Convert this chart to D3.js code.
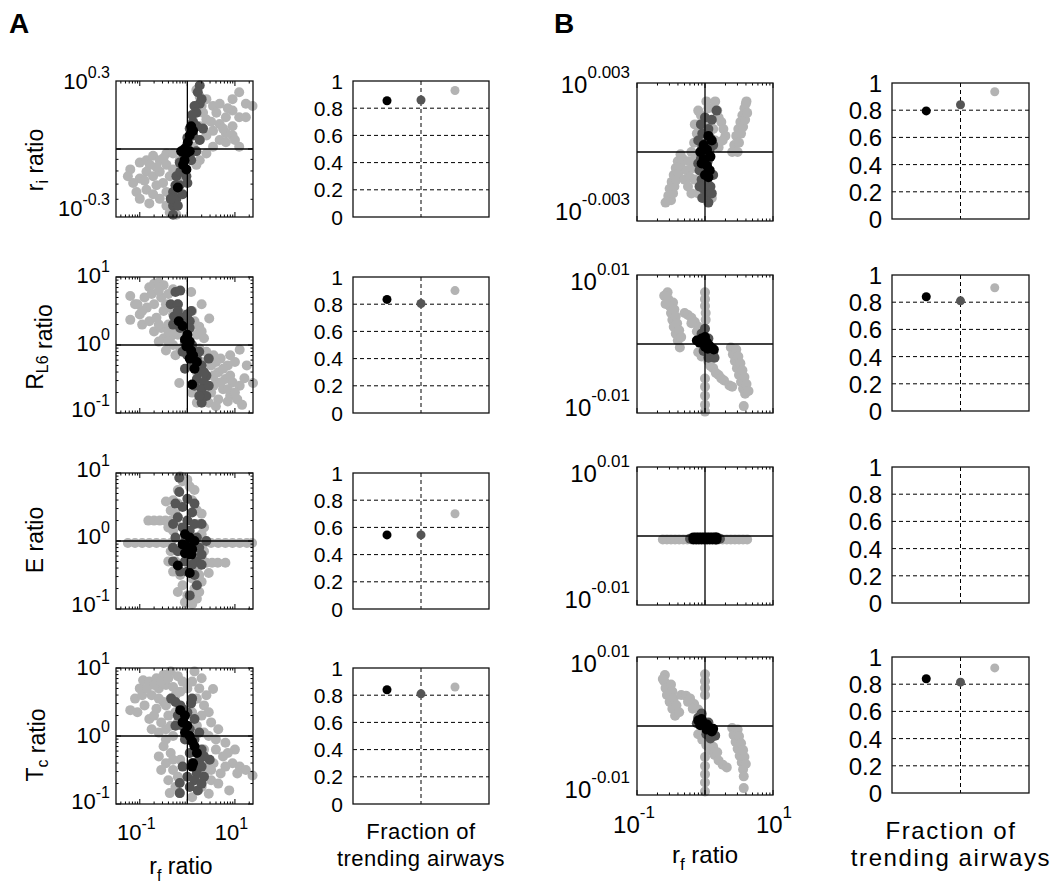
<!DOCTYPE html>
<html><head><meta charset="utf-8">
<script src="https://cdn.jsdelivr.net/npm/d3@7"></script>
<style>
body{margin:0;background:#fff}
svg{display:block}
text{font-family:"Liberation Sans",Arial,Helvetica,sans-serif;fill:#000}
</style>
</head><body>
<svg id="c" width="1059" height="884"></svg>
<script>
// ===================== DATA (log10 of ratios) =====================
const fracX = [1, 2, 3];
const fracTickValues = [0, 0.2, 0.4, 0.6, 0.8, 1];
const fracTickLabels = ["0", "0.2", "0.4", "0.6", "0.8", "1"];
const fracA_ri  = [0.855, 0.86, 0.93];
const fracA_RL6 = [0.835, 0.805, 0.90];
const fracA_E   = [0.545, 0.545, 0.70];
const fracA_Tc  = [0.84, 0.81, 0.86];
const fracB_ri  = [0.795, 0.84, 0.936];
const fracB_RL6 = [0.84, 0.81, 0.906];
const fracB_E   = [];
const fracB_Tc  = [0.84, 0.815, 0.92];

const A_xTickExp = [-1, 1];
const A_xTickLabels = ["-1", "1"];
const B_xTickExp = [-1, 1];
const B_xTickLabels = ["-1", "1"];
const A_yTickExp = [[0.3, -0.3], [1, 0, -1], [1, 0, -1], [1, 0, -1]];
const A_yTickLabels = [["0.3", "-0.3"], ["1", "0", "-1"], ["1", "0", "-1"], ["1", "0", "-1"]];
const B_yTickExp = [[0.003, -0.003], [0.01, -0.01], [0.01, -0.01], [0.01, -0.01]];
const B_yTickLabels = [["0.003", "-0.003"], ["0.01", "-0.01"], ["0.01", "-0.01"], ["0.01", "-0.01"]];
const A_yLabelParts = [["r", "i", " ratio"], ["R", "L6", " ratio"], ["E", "", " ratio"], ["T", "c", "  ratio"]];

// Scatter points [log10(rf ratio), log10(param ratio)]
const A_ri_light = [[-1.2,-0.09],[-1.0,-0.06],[-0.86,-0.05],[-0.72,-0.03],[-0.58,-0.05],[-0.44,-0.02],[-0.3,-0.02],[-0.86,-0.1],[-0.72,-0.12],[-0.58,-0.1],[-0.44,-0.07],[-1.0,-0.13],[-1.14,-0.15],[-1.07,-0.19],[-0.86,-0.18],[-0.65,-0.16],[-0.51,-0.15],[-0.44,-0.19],[-0.72,-0.2],[-1.0,-0.22],[-0.58,-0.22],[-0.44,-0.25],[-0.37,-0.28],[-0.23,-0.29],[-0.3,-0.22],[-0.23,-0.16],[-0.79,-0.07],[-0.3,-0.09],[-0.16,-0.05],[-0.1,-0.12],[-0.9,-0.14],[-0.65,-0.08],[-0.37,-0.12],[-0.2,-0.2],[-0.5,-0.04],[-1.25,-0.12],[-0.8,-0.24],[-0.3,-0.26],
  [0.19,0.26],[0.26,0.23],[0.4,0.22],[0.54,0.19],[0.68,0.2],[0.95,0.22],[1.09,0.25],[1.23,0.2],[1.37,0.19],[0.95,0.17],[0.81,0.14],[0.68,0.11],[0.54,0.08],[0.4,0.06],[0.26,0.04],[0.12,0.01],[0.4,0.13],[0.61,0.16],[1.09,0.14],[0.95,0.1],[0.81,0.07],[0.68,0.04],[0.54,0.01],[0.4,-0.02],[0.26,-0.05],[0.19,-0.07],[0.33,0.16],[0.26,0.1],[1.23,0.14],[1.09,0.01],[0.81,0.03],[0.95,0.06],[0.5,0.12],[0.75,0.09],[0.3,0.19],[0.85,0.18],[1.0,0.04]];
const A_ri_dark = [[0.26,0.28],[0.22,0.25],[0.26,0.2],[0.15,0.19],[0.19,0.16],[0.12,0.12],[0.05,0.09],[0.12,0.06],[-0.02,0.01],[-0.09,-0.02],[0.05,-0.03],[-0.16,-0.06],[-0.09,-0.09],[-0.23,-0.12],[-0.02,-0.12],[-0.16,-0.16],[-0.3,-0.19],[-0.23,-0.22],[-0.3,-0.25],[-0.3,-0.29],[0.08,-0.05],[0.19,-0.01],[0.26,0.04],[0.33,0.09],[0.0,0.05],[-0.1,-0.2],[0.1,0.15],[-0.2,-0.25],[0.3,0.22],[0.2,0.1],[-0.05,-0.05],[-0.15,-0.1],[-0.25,-0.16],[0.0,-0.15],[-0.35,-0.22]];
const A_ri_black = [[0.08,0.1],[0.12,0.08],[0.05,0.06],[0.01,0.03],[-0.06,0.0],[-0.13,-0.01],[-0.02,-0.02],[0.05,-0.01],[-0.06,-0.05],[-0.09,-0.07],[-0.02,-0.09],[-0.2,-0.17]];

const A_RL6_light = [[-1.2,0.72],[-1.1,0.6],[-1.2,0.37],[-1.0,0.45],[-0.9,0.7],[-0.8,0.85],[-0.7,0.9],[-0.6,0.92],[-0.5,0.88],[-0.85,0.55],[-0.7,0.6],[-0.55,0.7],[-0.4,0.75],[-0.3,0.82],[-0.95,0.3],[-0.8,0.35],[-0.65,0.4],[-0.5,0.5],[-0.35,0.55],[-0.2,0.6],[-0.7,0.2],[-0.55,0.25],[-0.4,0.3],[-0.25,0.35],[-0.1,0.45],[-0.5,0.1],[-0.35,0.12],[-0.2,0.15],[-0.6,0.05],[-0.3,0.0],[-0.15,-0.05],[-0.45,-0.08],[0.08,0.78],[0.46,0.39],[0.25,0.27],[0.1,0.5],[0.3,0.6],[0.2,0.15],[0.35,0.1],[0.15,0.35],[0.3,0.2],
  [-1.05,0.6],[-0.95,0.5],[-0.75,0.75],[-0.6,0.8],[-0.45,0.6],[-0.6,0.3],[-0.3,0.45],[-0.4,0.2],[-0.25,0.2],[-0.4,0.05],[-0.25,-0.15],
  [0.1,-0.1],[0.25,-0.05],[0.4,-0.1],[0.55,-0.15],[0.7,-0.2],[0.85,-0.3],[1.0,-0.25],[1.1,-0.07],[0.3,-0.25],[0.5,-0.3],[0.65,-0.4],[0.8,-0.5],[0.95,-0.55],[1.1,-0.6],[1.2,-0.49],[1.38,-0.56],[0.2,-0.4],[0.4,-0.45],[0.6,-0.55],[0.75,-0.65],[0.9,-0.75],[1.05,-0.8],[1.15,-0.88],[0.3,-0.6],[0.5,-0.7],[0.65,-0.8],[0.45,-0.85],[0.85,-0.83],[0.1,-0.7],[-0.17,-0.56],[0.2,-0.85],
  [0.15,-0.2],[0.45,-0.2],[0.6,-0.25],[0.75,-0.35],[0.9,-0.45],[0.55,-0.45],[0.7,-0.55],[0.85,-0.65],[1.0,-0.7],[0.55,-0.6],[0.4,-0.65],[0.6,-0.9],[0.9,-0.15],[1.25,-0.3]];
const A_RL6_dark = [[-0.25,0.78],[-0.15,0.8],[-0.35,0.6],[-0.2,0.6],[0.08,0.5],[-0.28,0.42],[-0.1,0.4],[0.05,0.35],[-0.15,0.25],[0.0,0.2],[-0.05,0.05],[0.1,0.0],[0.15,-0.1],[0.0,-0.15],[0.2,-0.2],[0.3,-0.3],[0.1,-0.3],[0.25,-0.4],[0.4,-0.45],[0.2,-0.5],[0.35,-0.55],[0.3,-0.65],[0.4,-0.75],[0.3,-0.85],[-0.05,-0.35],[0.45,-0.2],
  [-0.3,0.3],[-0.2,0.5],[0.0,0.45],[0.05,0.25],[-0.1,-0.1],[0.25,-0.1],[0.35,-0.4],[0.15,-0.6],[0.45,-0.6],[0.25,-0.75]];
const A_RL6_black = [[-0.18,0.35],[-0.1,0.28],[0.0,0.15],[-0.05,0.08],[0.05,0.05],[-0.02,-0.02],[0.08,-0.08],[0.12,-0.15],[0.05,-0.2],[0.2,-0.25],[0.15,-0.35],[0.1,-0.58]];

const A_E_light = [[-1.25,-0.03],[-1.1,-0.03],[-0.95,-0.03],[-0.8,-0.03],[-0.65,-0.03],[-0.5,-0.03],[-0.35,-0.03],[0.35,-0.03],[0.5,-0.03],[0.65,-0.03],[0.8,-0.03],[0.95,-0.03],[1.1,-0.03],[1.25,-0.03],[1.36,-0.03],
  [-0.82,0.3],[-0.7,0.3],[-0.58,0.3],[-0.46,0.3],[-0.34,0.3],[-0.24,0.3],
  [0.28,-0.32],[0.4,-0.32],[0.52,-0.32],[0.64,-0.32],[0.8,-0.32],
  [-0.15,0.95],[-0.1,0.88],[0.05,0.8],[-0.3,0.6],[-0.45,0.58],[-0.2,0.55],[0.1,0.6],[0.2,0.45],[-0.25,0.4],[0.25,0.25],[0.3,0.1],[-0.3,0.15],[-0.35,-0.15],[0.35,-0.15],[-0.25,-0.3],[0.2,-0.4],[0.45,-0.47],[-0.15,-0.5],[0.1,-0.55],[-0.1,-0.65],[0.15,-0.7],[0.0,-0.8],[0.2,-0.85],[0.1,-0.93],[-0.05,-0.9],[0.3,-0.6],
  [-0.35,0.45],[0.3,0.4],[-0.4,0.2],[0.35,0.2],[-0.4,-0.3],[0.3,-0.25],[-0.3,-0.45],[0.25,-0.5],[-0.2,-0.75],[0.25,-0.75],[0.0,0.9],[0.15,0.75],[-0.2,0.75]];
const A_E_dark = [[-0.17,0.93],[-0.17,0.72],[0.0,0.62],[-0.1,0.5],[0.1,0.42],[-0.2,0.35],[0.0,0.3],[0.15,0.25],[-0.1,0.2],[0.05,0.15],[-0.25,0.05],[0.2,0.05],[-0.05,0.0],[0.25,-0.1],[-0.2,-0.15],[0.1,-0.2],[-0.05,-0.3],[0.2,-0.3],[0.3,-0.35],[0.0,-0.45],[0.15,-0.5],[0.05,-0.8],[-0.3,-0.1],[0.4,0.0],
  [-0.25,0.55],[0.15,0.55],[-0.3,0.25],[0.3,0.25],[-0.3,-0.3],[0.3,-0.2],[-0.15,-0.45],[0.2,-0.65],[0.1,-0.35]];
const A_E_black = [[-0.05,0.1],[0.05,0.05],[0.15,0.0],[-0.1,-0.05],[0.0,-0.08],[0.1,-0.12],[-0.05,-0.18],[0.08,-0.2],[-0.2,-0.36],[0.05,-0.47]];

const A_Tc_light = [[-1.2,0.38],[-1.1,0.55],[-1.0,0.7],[-0.93,0.82],[-0.8,0.8],[-0.65,0.85],[-0.5,0.9],[-0.35,0.95],[-0.2,0.88],[-0.9,0.45],[-0.75,0.6],[-0.6,0.7],[-0.45,0.75],[-0.3,0.72],[-0.1,0.8],[0.15,0.95],[0.3,0.85],[0.54,0.69],[0.4,0.6],[0.2,0.55],[-0.8,0.25],[-0.65,0.4],[-0.5,0.5],[-0.35,0.55],[-0.55,0.2],[-0.4,0.3],[-0.25,0.35],[-0.6,0.05],[-0.45,0.1],[-0.3,0.0],[0.1,0.35],[0.3,0.3],[0.5,0.2],[0.2,0.15],[-0.5,-0.15],[-0.35,-0.25],[-0.45,-0.4],[-0.3,-0.5],[-0.4,-0.65],[-0.25,-0.75],[-0.37,-0.84],[-0.16,-0.84],[-0.2,-0.6],[-0.15,-0.35],[-0.6,-0.3],[0.1,-0.9],[0.3,-0.75],[0.5,-0.65],[0.4,-0.45],[0.6,-0.2],[0.75,-0.3],[0.95,-0.4],[1.1,-0.45],[1.23,-0.5],[1.37,-0.58],[0.88,-0.8],[0.7,-0.55],[0.55,-0.4],[0.35,-0.2],[0.8,-0.1],[1.0,-0.2],[0.2,-0.55],[0.45,0.0],[0.65,0.1],[-0.75,0.1],
  [-1.05,0.35],[-0.95,0.6],[-0.85,0.7],[-0.7,0.75],[-0.55,0.8],[-0.4,0.85],[-0.25,0.6],[-0.15,0.65],[-0.6,0.55],[-0.45,0.45],[-0.7,0.3],[-0.35,0.15],[-0.2,0.2],[-0.45,-0.05],[-0.55,-0.5],[-0.3,-0.35],[0.35,0.05],[0.6,-0.05],[0.85,-0.25],[0.65,-0.7],[0.45,-0.85],[0.35,-0.55],[0.5,-0.5],[1.05,-0.55],[0.8,-0.45],[0.0,0.7],[0.1,0.8],[0.25,0.7],[0.35,0.45],[0.45,0.35]];
const A_Tc_dark = [[-0.34,0.55],[-0.15,0.45],[0.08,0.48],[-0.2,0.3],[0.0,0.35],[0.15,0.25],[-0.1,0.15],[0.05,0.1],[0.15,-0.05],[-0.05,-0.05],[0.2,-0.2],[0.05,-0.25],[0.25,-0.35],[0.1,-0.4],[0.3,-0.45],[0.2,-0.55],[0.0,-0.6],[-0.16,-0.69],[-0.16,-0.84],[0.22,-0.8],[0.47,-0.35],[-0.25,0.15],[0.35,-0.6],
  [-0.25,0.5],[0.1,0.55],[-0.1,0.4],[0.25,0.05],[0.3,-0.2],[0.35,-0.3],[0.15,-0.65],[0.05,-0.75],[0.3,-0.7],[-0.1,-0.45]];
const A_Tc_black = [[-0.15,0.38],[-0.05,0.3],[-0.1,0.2],[0.0,0.15],[-0.05,0.05],[0.05,0.0],[0.1,-0.08],[0.15,-0.15],[0.2,-0.25],[0.12,-0.4],[0.1,-0.45]];

const B_ri_light = [[-0.58,-0.0022],[-0.54,-0.0019],[-0.52,-0.0016],[-0.49,-0.0013],[-0.46,-0.0010],[-0.43,-0.0007],[-0.40,-0.0004],[-0.36,-0.0001],[-0.50,-0.0021],[-0.47,-0.0018],[-0.45,-0.0015],[-0.42,-0.0012],[-0.39,-0.0009],[-0.36,-0.0006],[-0.33,-0.0003],
  [-0.30,-0.0012],[-0.27,-0.0008],[-0.24,-0.0004],[-0.20,0.0000],[-0.16,0.0004],[-0.12,0.0008],[-0.09,0.0012],[-0.06,0.0016],[-0.22,-0.0011],[-0.18,-0.0007],[-0.14,-0.0003],[-0.25,-0.0015],[-0.10,-0.0018],[0.0,-0.0016],
  [-0.15,-0.0012],[-0.2,-0.0018],[0.15,0.0005],[0.2,0.0002],[0.1,-0.0020],[-0.15,0.0012],[-0.1,0.0018],
  [0.02,0.0022],[0.05,0.0019],[0.15,0.0022],[0.13,0.0019],[0.18,0.0018],[0.20,0.0015],[0.24,0.0013],[0.27,0.0010],[0.30,0.0007],[0.26,0.0005],[0.08,0.0013],[0.12,0.0010],
  [0.40,0.0000],[0.43,0.0003],[0.46,0.0007],[0.49,0.0010],[0.52,0.0013],[0.55,0.0016],[0.58,0.0019],[0.61,0.0022],[0.48,0.0000],[0.50,0.0004],[0.53,0.0008],[0.56,0.0011],[0.59,0.0014],[0.62,0.0017],[0.60,0.0021]];
const B_ri_dark = [[0.17,0.0018],[0.10,0.0014],[0.05,0.0010],[0.08,0.0006],[0.02,0.0004],[-0.04,0.0002],[0.07,0.0001],[-0.06,-0.0003],[0.04,-0.0004],[-0.08,-0.0008],[0.0,-0.0009],[-0.05,-0.0012],[0.03,-0.0013],[-0.02,-0.0016],[0.02,-0.0019],[0.05,-0.0022],[-0.04,0.0008],[-0.10,-0.0005],
  [-0.1,0.0005],[0.12,0.0003],[-0.08,-0.0015],[0.08,-0.0015],[0.12,-0.0010],[0.0,0.0015],[-0.06,0.0012],[0.1,-0.0018],[-0.04,-0.0020]];
const B_ri_black = [[0.05,0.0007],[0.10,0.0005],[-0.02,0.0003],[0.03,0.0001],[-0.07,0.0000],[0.08,-0.0002],[-0.02,-0.0003],[0.03,-0.0006],[-0.05,-0.0005],[0.07,-0.0008],[0.0,-0.0010],[0.05,-0.0011]];

const B_RL6_light = [[-0.55,0.0075],[-0.54,0.0065],[-0.52,0.0055],[-0.50,0.0045],[-0.48,0.0035],[-0.46,0.0025],[-0.43,0.0015],[-0.40,0.0005],[-0.37,-0.0005],[-0.47,0.0060],[-0.45,0.0050],[-0.43,0.0040],[-0.41,0.0030],[-0.38,0.0020],[-0.35,0.0010],[-0.60,0.0070],[-0.58,0.0058],
  [-0.30,0.0045],[-0.25,0.0042],[-0.20,0.0038],[-0.15,0.0032],[-0.10,0.0025],[-0.06,0.0018],[-0.02,0.0012],[-0.20,0.0030],[-0.12,0.0018],
  [-0.10,-0.0012],[-0.05,-0.0018],[0.0,-0.0018],[0.05,-0.0025],[0.12,-0.0035],[0.20,-0.0045],[0.28,-0.0053],[0.36,-0.0060],[0.08,-0.0032],[0.16,-0.0042],[0.24,-0.0050],[0.40,-0.0062],
  [0.38,-0.0005],[0.41,-0.0015],[0.44,-0.0025],[0.47,-0.0035],[0.50,-0.0045],[0.53,-0.0055],[0.56,-0.0065],[0.59,-0.0072],[0.46,-0.0008],[0.49,-0.0018],[0.52,-0.0028],[0.55,-0.0038],[0.58,-0.0048],[0.61,-0.0058],[0.64,-0.0068],[0.57,-0.0090],
  [0.0,0.0075],[0.0,0.0065],[0.0,0.0055],[0.01,0.0045],[0.01,0.0035],[0.0,-0.0050],[0.0,-0.0062],[0.0,-0.0075],[0.0,-0.0088],[0.0,-0.0098]];
const B_RL6_dark = [[0.0,0.0022],[-0.05,0.0015],[0.05,0.0008],[-0.1,0.0005],[0.08,-0.0005],[-0.02,-0.0010],[0.12,-0.0012],[0.05,-0.0020],[0.14,-0.0020]];
const B_RL6_black = [[-0.05,0.0008],[0.0,0.0010],[-0.12,0.0005],[-0.08,0.0002],[-0.02,0.0003],[0.03,0.0002],[0.06,-0.0002],[0.0,-0.0004],[0.1,-0.0006],[0.04,-0.0007],[0.13,-0.0008]];

const B_E_light = [[-0.62,-0.0005],[-0.56,-0.0005],[-0.50,-0.0005],[-0.44,-0.0005],[-0.38,-0.0005],[-0.32,-0.0005],[-0.26,-0.0005],[-0.20,-0.0005],[0.20,-0.0005],[0.26,-0.0005],[0.32,-0.0005],[0.38,-0.0005],[0.44,-0.0005],[0.50,-0.0005],[0.56,-0.0005],[0.62,-0.0005]];
const B_E_dark = [[-0.22,-0.0004],[-0.19,-0.0004],[0.19,-0.0004],[0.22,-0.0004]];
const B_E_black = [[-0.17,-0.0002],[-0.13,-0.0002],[-0.09,-0.0002],[-0.05,-0.0002],[-0.01,-0.0002],[0.03,-0.0002],[0.07,-0.0002],[0.11,-0.0002],[0.15,-0.0002],[0.17,-0.0002],
  [-0.17,-0.0005],[-0.13,-0.0005],[-0.09,-0.0005],[-0.05,-0.0005],[-0.01,-0.0005],[0.03,-0.0005],[0.07,-0.0005],[0.11,-0.0005],[0.15,-0.0005],[0.17,-0.0005]];

const B_Tc_light = [[-0.59,0.0074],[-0.60,0.0065],[-0.58,0.0055],[-0.56,0.0045],[-0.52,0.0035],[-0.48,0.0025],[-0.44,0.0015],[-0.50,0.0060],[-0.48,0.0050],[-0.46,0.0040],[-0.42,0.0030],[-0.38,0.0020],[-0.62,0.0068],
  [-0.35,0.0045],[-0.28,0.0044],[-0.22,0.0040],[-0.16,0.0032],[-0.10,0.0024],[-0.05,0.0016],[-0.25,0.0035],[-0.18,0.0025],
  [-0.10,-0.0012],[-0.04,-0.0020],[0.02,-0.0028],[0.08,-0.0035],[0.14,-0.0042],[0.20,-0.0050],[0.26,-0.0056],[0.32,-0.0060],[0.12,-0.0030],[0.18,-0.0038],[0.05,-0.0018],
  [0.40,-0.0003],[0.42,-0.0013],[0.45,-0.0023],[0.48,-0.0033],[0.51,-0.0043],[0.54,-0.0053],[0.56,-0.0063],[0.57,-0.0073],[0.48,-0.0005],[0.50,-0.0015],[0.53,-0.0025],[0.56,-0.0035],[0.58,-0.0045],[0.60,-0.0055],[0.57,-0.0090],
  [0.0,0.0075],[0.0,0.0065],[0.0,0.0055],[0.0,0.0045],[0.0,-0.0045],[0.0,-0.0058],[0.0,-0.0070],[0.0,-0.0082],[0.0,-0.0095]];
const B_Tc_dark = [[-0.1,0.0012],[-0.05,0.0018],[0.05,0.0005],[-0.12,0.0004],[0.1,-0.0008],[0.02,-0.0012],[0.15,-0.0014],[0.08,-0.0018]];
const B_Tc_black = [[-0.1,0.0008],[-0.05,0.0010],[-0.02,0.0004],[0.03,0.0002],[-0.07,0.0001],[0.07,-0.0003],[0.02,-0.0005],[0.1,-0.0008],[0.12,-0.0004]];

// ===================== LAYOUT / STYLE =====================
const C_LIGHT = "#b3b3b3", C_DARK = "#555555", C_BLACK = "#000000";
const svg = d3.select("#c");

const A_S_X = 116, A_F_X = 353, A_W = 137, A_H = 136;
const A_TOPS = [81, 277, 473, 668];
const B_S_X = 637, B_F_X = 892, B_W = 136, B_H = 138;
const B_TOPS = [83, 275, 467, 657];
const A_yLabelOff = [[8, -1], [6, 6, 4], [4, 3, 3], [7, 7, 5]];
const B_yLabelOff = [[10, -1], [15, 3], [15, 3], [15, 3]];
const A_yLabelCY = [160, 347, 540, 745];

function addSup(t, base, sup, supSize, rise) {
  t.append("tspan").text(base);
  t.append("tspan").attr("dy", -rise).style("font-size", supSize + "px").text(sup);
}

function isMajor(v) { const l = Math.log10(v); return Math.abs(l - Math.round(l)) < 1e-6; }

function drawScatter(c) {
  const xs = d3.scaleLog().domain(c.xExp.map(e => Math.pow(10, e))).range([c.x0, c.x0 + c.w]);
  const ys = d3.scaleLog().domain(c.yExp.map(e => Math.pow(10, e))).range([c.y0 + c.h, c.y0]);
  const g = svg.append("g");
  [[c.light, C_LIGHT], [c.dark, C_DARK], [c.black, C_BLACK]].forEach(([pts, col]) => {
    g.append("g").selectAll("circle").data(pts).join("circle")
      .attr("cx", d => xs(Math.pow(10, d[0])))
      .attr("cy", d => ys(Math.pow(10, d[1])))
      .attr("r", c.r).attr("fill", col);
  });
  const tg = g.append("g").attr("stroke", "#000").attr("stroke-width", 1);
  xs.ticks().forEach(v => {
    const x = xs(v), L = isMajor(v) ? 5 : 2.5;
    tg.append("line").attr("x1", x).attr("x2", x).attr("y1", c.y0 + c.h).attr("y2", c.y0 + c.h - L);
    tg.append("line").attr("x1", x).attr("x2", x).attr("y1", c.y0).attr("y2", c.y0 + L);
  });
  if (c.yMinor) {
    ys.ticks().forEach(v => {
      const y = ys(v), L = isMajor(v) ? 5 : 2.5;
      tg.append("line").attr("x1", c.x0).attr("x2", c.x0 + L).attr("y1", y).attr("y2", y);
      tg.append("line").attr("x1", c.x0 + c.w).attr("x2", c.x0 + c.w - L).attr("y1", y).attr("y2", y);
    });
  }
  g.append("line").attr("x1", xs(1)).attr("x2", xs(1)).attr("y1", c.y0).attr("y2", c.y0 + c.h)
    .attr("stroke", "#000").attr("stroke-width", 1.3);
  g.append("line").attr("x1", c.x0).attr("x2", c.x0 + c.w).attr("y1", ys(1)).attr("y2", ys(1))
    .attr("stroke", "#000").attr("stroke-width", 1.3);
  g.append("rect").attr("x", c.x0).attr("y", c.y0).attr("width", c.w).attr("height", c.h)
    .attr("fill", "none").attr("stroke", "#111").attr("stroke-width", 1.3);
  c.yTickExp.forEach((e, i) => {
    const t = g.append("text").attr("x", c.labelRight).attr("y", ys(Math.pow(10, e)) + c.yOff[i])
      .attr("text-anchor", "end").style("font-size", c.fs + "px");
    addSup(t, "10", c.yTickLabels[i], c.supFs, c.rise);
  });
  if (c.xTickExp) {
    c.xTickExp.forEach((e, i) => {
      const t = g.append("text").attr("x", xs(Math.pow(10, e)) + c.xLabShift[i]).attr("y", c.y0 + c.h + c.xLabDy)
        .attr("text-anchor", "middle").style("font-size", c.fs + "px");
      addSup(t, "10", c.xTickLabels[i], c.supFs, c.rise);
    });
  }
}

function drawFraction(c) {
  const xs = d3.scaleLinear().domain([0, 4]).range([c.x0, c.x0 + c.w]);
  const ys = d3.scaleLinear().domain([0, 1]).range([c.y0 + c.h, c.y0]);
  const g = svg.append("g");
  fracTickValues.filter(v => v > 0 && v < 1).forEach(v => {
    g.append("line").attr("x1", c.x0).attr("x2", c.x0 + c.w).attr("y1", ys(v)).attr("y2", ys(v))
      .attr("stroke", "#000").attr("stroke-width", 1).attr("stroke-dasharray", "4,3");
  });
  g.append("line").attr("x1", xs(2)).attr("x2", xs(2)).attr("y1", c.y0).attr("y2", c.y0 + c.h)
    .attr("stroke", "#000").attr("stroke-width", 1).attr("stroke-dasharray", "4,3");
  const cols = [C_BLACK, C_DARK, C_LIGHT];
  g.selectAll("circle.p").data(c.vals).join("circle")
    .attr("cx", (d, i) => xs(fracX[i])).attr("cy", d => ys(d))
    .attr("r", 4.5).attr("fill", (d, i) => cols[i]);
  g.append("rect").attr("x", c.x0).attr("y", c.y0).attr("width", c.w).attr("height", c.h)
    .attr("fill", "none").attr("stroke", "#111").attr("stroke-width", 1.3);
  fracTickValues.forEach((v, i) => {
    g.append("text").attr("x", c.labelRight).attr("y", ys(v) + c.labDy)
      .attr("text-anchor", "end").style("font-size", c.fs + "px").text(fracTickLabels[i]);
  });
}

// ----- Column A -----
const A_sets = [[A_ri_light, A_ri_dark, A_ri_black], [A_RL6_light, A_RL6_dark, A_RL6_black],
                [A_E_light, A_E_dark, A_E_black], [A_Tc_light, A_Tc_dark, A_Tc_black]];
const A_yExt = [[-0.3, 0.3], [-1, 1], [-1, 1], [-1, 1]];
const A_frac = [fracA_ri, fracA_RL6, fracA_E, fracA_Tc];
A_TOPS.forEach((top, r) => {
  drawScatter({
    x0: A_S_X, y0: top, w: A_W, h: A_H, xExp: [-1.5, 1.38], yExp: A_yExt[r],
    light: A_sets[r][0], dark: A_sets[r][1], black: A_sets[r][2], r: 5,
    yMinor: true, yTickExp: A_yTickExp[r], yTickLabels: A_yTickLabels[r], yOff: A_yLabelOff[r],
    labelRight: 110, fs: 22, supFs: 16, rise: 11,
    xTickExp: r === 3 ? A_xTickExp : null, xTickLabels: A_xTickLabels, xLabShift: [-3.5, -3.5], xLabDy: 36
  });
  drawFraction({ x0: A_F_X, y0: top, w: A_W - 1, h: A_H, vals: A_frac[r], labelRight: 343, fs: 21, labDy: 7.5 });
  const p = A_yLabelParts[r];
  const t = svg.append("text").attr("transform", `translate(43,${A_yLabelCY[r]}) rotate(-90)`)
    .attr("text-anchor", "middle").style("font-size", "23px");
  t.append("tspan").text(p[0]);
  if (p[1]) t.append("tspan").attr("dy", 5).style("font-size", "16px").text(p[1]);
  const ratioDy = r === 0 ? -5 : r === 1 ? 4 : r === 3 ? -3 : 0;
  t.append("tspan").attr("dy", ratioDy).text(p[2]);
});

// ----- Column B -----
const B_sets = [[B_ri_light, B_ri_dark, B_ri_black], [B_RL6_light, B_RL6_dark, B_RL6_black],
                [B_E_light, B_E_dark, B_E_black], [B_Tc_light, B_Tc_dark, B_Tc_black]];
const B_yExt = [[-0.003, 0.003], [-0.01, 0.01], [-0.01, 0.01], [-0.01, 0.01]];
const B_frac = [fracB_ri, fracB_RL6, fracB_E, fracB_Tc];
B_TOPS.forEach((top, r) => {
  drawScatter({
    x0: B_S_X, y0: top, w: B_W, h: B_H, xExp: [-1, 1], yExp: B_yExt[r],
    light: B_sets[r][0], dark: B_sets[r][1], black: B_sets[r][2], r: 5,
    yMinor: false, yTickExp: B_yTickExp[r], yTickLabels: B_yTickLabels[r], yOff: B_yLabelOff[r],
    labelRight: 630, fs: 24, supFs: 17, rise: 15,
    xTickExp: r === 3 ? B_xTickExp : null, xTickLabels: B_xTickLabels, xLabShift: [-3, 1], xLabDy: 38
  });
  drawFraction({ x0: B_F_X, y0: top, w: 137, h: B_H - 2, vals: B_frac[r], labelRight: 882, fs: 24, labDy: 9 });
});

function rfLabel(x, y, fs) {
  const t = svg.append("text").attr("x", x).attr("y", y).attr("text-anchor", "middle").style("font-size", fs + "px");
  t.append("tspan").text("r");
  t.append("tspan").attr("dy", 7).style("font-size", (fs - 7) + "px").text("f");
  t.append("tspan").attr("dy", -7).text(" ratio");
}
rfLabel(181, 874, 23);
rfLabel(705, 863, 24);

function fracLabel(x, fs, ls) {
  svg.append("text").attr("x", x).attr("y", 839).attr("text-anchor", "middle")
    .style("font-size", fs + "px").style("letter-spacing", ls + "px").text("Fraction of");
  svg.append("text").attr("x", x).attr("y", 866).attr("text-anchor", "middle")
    .style("font-size", fs + "px").style("letter-spacing", ls + "px").text("trending airways");
}
fracLabel(421, 22, 0.5);
fracLabel(951, 24, 1.6);

svg.append("text").attr("x", 9).attr("y", 33).style("font-size", "28px").style("font-weight", "bold").text("A");
svg.append("text").attr("x", 554).attr("y", 33).style("font-size", "28px").style("font-weight", "bold").text("B");
</script>
</body></html>
